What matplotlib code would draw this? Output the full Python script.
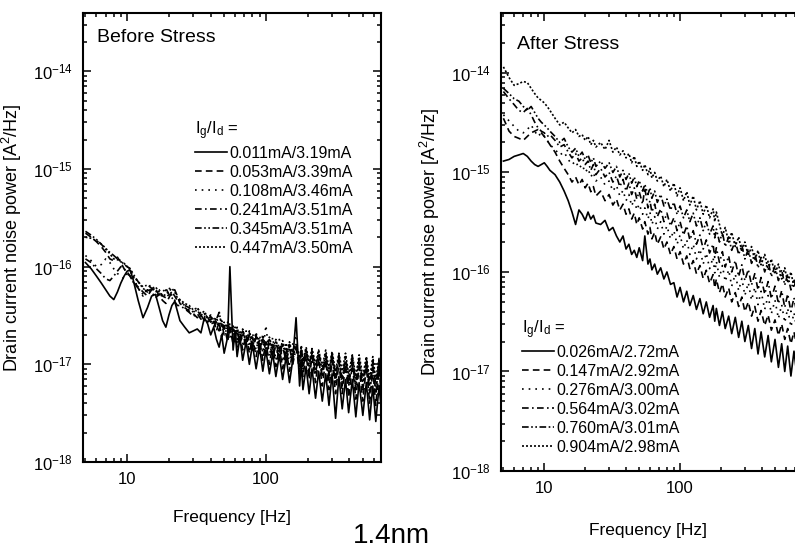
import matplotlib.pyplot as plt

plt.rcParams["font.family"] = ["Liberation Sans", "DejaVu Sans"]
plt.rcParams["mathtext.fontset"] = "custom"
plt.rcParams["mathtext.rm"] = "Liberation Sans"
plt.rcParams["mathtext.it"] = "Liberation Sans:italic"
plt.rcParams["mathtext.bf"] = "Liberation Sans:bold"
plt.rcParams["mathtext.default"] = "regular"
plt.rcParams["axes.unicode_minus"] = False

# frequency grid [Hz], shared by all spectra
freq = [5, 5.5, 6, 6.5, 7, 7.5, 8, 8.5, 9, 9.5,
        10, 10.5, 11, 12, 13, 14, 15, 16, 17, 18,
        19, 20, 21, 22, 23, 24, 26, 28, 30, 32,
        34, 36, 38, 40, 42, 44, 46, 48, 50, 53,
        55, 58, 60, 62, 65, 68, 72, 76, 80, 85,
        90, 95, 100, 106, 112, 118, 125, 132, 140, 148,
        156, 165, 175, 180, 185, 195, 205, 215, 228, 240,
        255, 270, 285, 300, 318, 336, 355, 375, 395, 420,
        445, 470, 500, 530, 560, 590, 620, 655, 690, 730,
        770]

unit = 1e-18  # noise values below are in units of 1e-18 A^2/Hz
decades = [1e-18, 1e-17, 1e-16, 1e-15, 1e-14]

before_labels = ["0.011mA/3.19mA", "0.053mA/3.39mA", "0.108mA/3.46mA",
                 "0.241mA/3.51mA", "0.345mA/3.51mA", "0.447mA/3.50mA"]

before_1 = [110, 95, 80, 68, 58, 50, 46, 55, 68, 80, 90, 92, 75, 45, 30, 38, 50, 52, 38, 28,
            24, 32, 40, 44, 35, 28, 24, 21, 22, 23, 21, 30, 26, 20, 24, 18, 15, 20, 13, 19,
            100, 14, 22, 12, 19, 11, 17, 10, 16, 9, 15, 8.5, 14, 8, 13, 7.5, 12.5, 7, 12, 6.5,
            11, 30, 6, 10, 5.5, 9.5, 5, 9, 4.5, 8.5, 4.2, 8, 3.8, 8, 2.8, 7.5, 3.5, 7, 3.2, 7,
            2.9, 6.5, 3, 6.5, 2.7, 6, 2.6, 6, 2.8, 5.5, 2.6]
before_2 = [220, 200, 180, 160, 140, 120, 115, 125, 110, 95, 85, 80, 70, 62, 55, 50, 58, 60, 50, 45,
            42, 48, 55, 58, 50,
            42, 38, 35, 33, 30, 32, 28, 30, 27, 29, 22, 27, 19, 25, 17, 24, 16, 22, 15, 21,
            14, 20, 13, 19, 12, 18, 11, 17, 10, 16, 9.5, 15, 9, 14.5, 8.5, 14, 16, 8, 13, 7.5,
            12.5, 7, 12, 6.5, 11.5, 6, 11, 5.5, 11, 5, 10.5, 5, 10, 4.6, 10, 4.4, 9.5, 4.2, 9.5, 4,
            9, 3.8, 9, 3.6, 8.5, 3.5]
before_3 = [130, 115, 100, 105, 120, 110, 95, 85, 80, 75, 85, 100, 80, 60, 50, 62, 65, 55, 48, 52,
            58, 62, 50, 45, 48,
            44, 40, 36, 34, 38, 33, 30, 32, 28, 30, 26, 35, 24, 27, 21, 26, 20, 24, 18, 23,
            16, 22, 15, 21, 14, 20, 13, 25, 12, 19, 11, 18, 10.5, 17, 10, 16, 20, 9.5, 15, 9,
            14.5, 8.5, 14, 8, 13.5, 7.5, 13, 7, 13, 6.5, 12.5, 6.5, 12, 6, 12, 5.5, 11.5, 5.5, 11.5, 5,
            11, 5, 11, 4.8, 10.5, 4.8]
before_4 = [120, 110, 95, 85, 75, 72, 80, 90, 100, 95, 88, 80, 70, 60, 52, 58, 55, 48, 52, 55,
            60, 52, 48, 44, 40,
            40, 37, 34, 31, 33, 29, 31, 27, 29, 24, 28, 22, 26, 20, 24, 19, 23, 17, 22, 16,
            21, 15, 20, 14, 19, 13, 18, 12, 17, 11.5, 16, 11, 15.5, 10.5, 15, 10, 14.5, 9.5, 14, 9,
            13.5, 8.5, 13, 8, 12.5, 7.5, 12, 7, 12, 6.5, 11.5, 6, 11, 6, 11, 5.5, 10.5, 5.5, 10.5, 5,
            10, 5, 10, 4.5, 9.5, 4.5]
before_5 = [230, 210, 190, 170, 150, 140, 130, 120, 115, 105, 100, 95, 85, 70, 62, 65, 60, 55, 58, 50,
            48, 52, 55, 50, 45,
            45, 40, 38, 34, 36, 31, 33, 29, 31, 26, 29, 34, 25, 23, 26, 21, 24, 19, 23, 17,
            22, 16, 21, 15, 20, 14, 19, 13.5, 18, 13, 17, 12, 16.5, 11.5, 16, 11, 15.5, 10.5, 15, 10,
            14.5, 9.5, 14, 9, 13.5, 8.5, 13, 8, 13, 7.5, 12.5, 7, 12, 7, 12, 6.5, 11.5, 6.5, 11.5, 6,
            11, 6, 11, 5.5, 10.5, 5.5]
before_6 = [200, 195, 185, 170, 155, 135, 120, 118, 112, 108, 100, 90, 80, 70, 60, 55, 60, 62, 55, 50,
            52, 56, 60, 55, 48,
            46, 42, 40, 36, 38, 33, 35, 30, 32, 27, 30, 25, 28, 23, 27, 22, 25, 20, 24, 18,
            23, 17, 22, 16, 21, 15, 20, 14.5, 19, 14, 18, 13, 17.5, 12.5, 17, 12, 16, 11.5, 15.5, 11,
            15, 10.5, 14.5, 10, 14, 9.5, 14, 9, 13.5, 8.5, 13, 8.5, 13, 8, 12.5, 7.5, 12.5, 7.5, 12, 7,
            12, 7, 11.5, 6.5, 11.5, 6.5]

after_labels = ["0.026mA/2.72mA", "0.147mA/2.92mA", "0.276mA/3.00mA",
                "0.564mA/3.02mA", "0.760mA/3.01mA", "0.904mA/2.98mA"]

after_1 = [1300, 1350, 1450, 1500, 1550, 1450, 1300, 1200, 1150, 1200,
           1250, 1150, 1050, 950, 800, 650, 520, 400, 300, 420,
           380, 330, 400, 340, 370, 310, 300, 330, 260, 280,
           230, 200, 230, 170, 190, 150, 165, 140, 175, 130,
           230, 120, 135, 105, 120, 95, 110, 85, 100, 75,
           78, 56, 70, 50, 64, 46, 58, 42, 54, 38,
           50, 35, 46, 32, 43, 29, 40, 27, 36, 24,
           35, 22, 32, 20, 29, 17, 27, 15, 25, 14,
           23, 12.5, 21, 11, 19, 10, 18, 9, 16, 8.5, 15]
after_2 = [3500, 2600, 2300, 2200, 2100, 2300, 2500, 2600, 2700, 2500,
           2300, 2100, 1900, 1600, 1300, 1100, 950, 800, 900, 750,
           850, 700, 780, 640, 720, 580, 650, 520, 600, 470,
           540, 420, 480, 380, 430, 340, 390, 300, 350, 270,
           320, 240, 280, 215, 250, 190, 225, 170, 200, 150,
           180, 135, 160, 120, 145, 108, 130, 96, 116, 86,
           104, 77, 94, 69, 85, 62, 76, 56, 69, 50,
           62, 45, 56, 40, 50, 36, 45, 32, 41, 29,
           37, 26, 33, 23, 30, 21, 27, 19, 25, 17, 23]
after_3 = [3800, 3300, 2900, 2600, 2500, 2700, 3000, 2600, 2300, 2500,
           2300, 2100, 1900, 1700, 1500, 1600, 1350, 1200, 1300, 1100,
           1200, 1000, 1100, 900, 1000, 820, 900, 750, 820, 650,
           740, 580, 660, 520, 600, 460, 540, 420, 480, 380,
           440, 340, 400, 300, 360, 270, 320, 240, 290, 215,
           260, 190, 235, 170, 210, 150, 190, 135, 170, 120,
           155, 108, 140, 98, 128, 88, 116, 80, 105, 72,
           95, 65, 86, 58, 78, 52, 70, 47, 64, 42,
           58, 38, 52, 34, 47, 31, 43, 28, 39, 25, 35]
after_4 = [6500, 5500, 4800, 4200, 4000, 4400, 3800, 3200, 2800, 2600,
           2500, 2300, 2400, 2100, 1800, 1900, 1600, 1400, 1550, 1300,
           1400, 1200, 1300, 1050, 1200, 950, 1100, 900, 1000, 800,
           920, 720, 850, 650, 780, 600, 700, 540, 640, 480,
           700, 440, 520, 400, 480, 360, 430, 320, 390, 290,
           350, 260, 320, 235, 290, 210, 260, 190, 235, 170,
           210, 155, 190, 140, 175, 125, 160, 112, 145, 100,
           130, 90, 118, 82, 106, 74, 96, 66, 88, 60,
           80, 54, 72, 48, 65, 44, 60, 40, 55, 36, 50]
after_5 = [7000, 6200, 5500, 5200, 4600, 4200, 4600, 4000, 3500, 3200,
           3000, 2800, 2600, 2300, 2000, 2200, 1800, 1600, 1750, 1450,
           1600, 1350, 1500, 1250, 1400, 1150, 1300, 1100, 1250, 1000,
           1150, 900, 1050, 850, 980, 780, 900, 720, 830, 650,
           760, 600, 700, 550, 650, 500, 600, 460, 540, 420,
           500, 380, 460, 350, 420, 320, 390, 290, 350, 260,
           320, 240, 290, 220, 270, 200, 250, 180, 225, 165,
           205, 150, 185, 135, 170, 122, 155, 110, 140, 100,
           128, 90, 115, 82, 105, 74, 95, 66, 85, 60, 78]
after_6 = [11500, 9000, 7500, 7800, 8200, 8000, 7000, 6200, 5600, 5300,
           5000, 4600, 4200, 3500, 3000, 3200, 2800, 2500, 2700, 2300,
           2400, 2100, 2300, 1900, 2100, 1800, 2000, 1700, 2100, 1600,
           1800, 1500, 1650, 1400, 1550, 1250, 1450, 1150, 1300, 1050,
           1200, 950, 1100, 880, 1000, 820, 920, 720, 850, 650,
           780, 580, 700, 520, 640, 470, 580, 420, 520, 380,
           470, 350, 430, 320, 400, 300, 230, 280, 200, 250,
           180, 225, 160, 200, 145, 180, 130, 165, 118, 150,
           105, 135, 95, 120, 85, 110, 78, 100, 70, 90, 62]

styles = ["-", (0, (4, 2.5)), (0, (1, 3)), (0, (4, 2, 1, 2)),
          (0, (4, 1.5, 1, 1.5, 1, 1.5)), (0, (1.2, 1.2))]

W, H = 795, 548
fig = plt.figure(figsize=(W / 100, H / 100), dpi=100)

ax1 = fig.add_axes([83 / W, 86 / H, 298 / W, 449 / H])
ax2 = fig.add_axes([501 / W, 77 / H, 294 / W, 458 / H])


def draw_panel(ax, series, labels, title_xy, legend_xy, xmax, ymax, xpad):
    lines = []
    for vals, ls in zip(series, styles):
        (ln,) = ax.plot(freq, [v * unit for v in vals], color="black",
                        lw=1.2, ls=ls)
        lines.append(ln)
    ax.set_xscale("log")
    ax.set_yscale("log")
    ax.set_xlim(4.8, xmax)
    ax.set_ylim(1e-18, ymax)
    ax.set_xticks([10, 100], ["10", "100"])
    ax.set_yticks(decades)
    ax.tick_params(which="both", direction="in", top=True, right=True,
                   labelsize=12, width=1.1)
    ax.tick_params(which="major", length=6, pad=7)
    ax.tick_params(which="minor", length=3)
    for sp in ax.spines.values():
        sp.set_linewidth(1.5)
    ax.set_ylabel("Drain current noise power [A$^2$/Hz]", fontsize=13, labelpad=7)
    ax.set_xlabel("Frequency [Hz]", fontsize=12.5, labelpad=xpad)
    ax.legend(lines, labels, title=r"$I_g/I_d$ =", loc="upper left",
              bbox_to_anchor=(legend_xy[0] / W, 1 - legend_xy[1] / H),
              bbox_transform=fig.transFigure, frameon=False,
              fontsize=11.5, title_fontsize=12, handlelength=2.0,
              handletextpad=0.15, labelspacing=0.25, borderpad=0,
              borderaxespad=0, alignment="left")
    fig.text(title_xy[0] / W, 1 - title_xy[1] / H, title_xy[2],
             fontsize=14, va="baseline", ha="left")


draw_panel(ax1, [before_1, before_2, before_3, before_4, before_5, before_6],
           before_labels, (97, 42, "Before Stress"), (195, 119), 676, 3.95e-14, 17)
draw_panel(ax2, [after_1, after_2, after_3, after_4, after_5, after_6],
           after_labels, (517, 49, "After Stress"), (522, 318), 702, 4.0e-14, 20)

# right panel runs off the page edge in the original scan
ax2.spines["right"].set_visible(False)
ax2.tick_params(which="both", right=False)

fig.text(353 / W, 1 - 543 / H, "1.4nm", fontsize=20, va="baseline", ha="left")

fig.savefig("out.png", dpi=100)
